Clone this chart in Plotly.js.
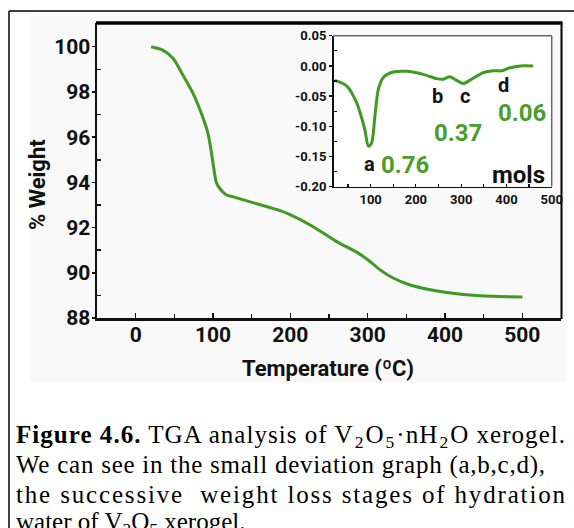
<!DOCTYPE html>
<html>
<head>
<meta charset="utf-8">
<script src="https://cdn.plot.ly/plotly-3.0.1.min.js"></script>
<style>html,body{margin:0;padding:0;background:#fff;}#chart{width:574px;height:528px;}</style>
</head>
<body>
<div id="chart"></div>
<script>
// Main TGA curve
const temperature = [20, 35, 48, 61, 74, 85, 93.5, 98, 102, 104, 108.5, 117, 126, 147, 169, 186, 199, 229, 260, 288, 303, 316, 333, 354, 376, 402, 445, 500];
const weightPct   = [100, 99.85, 99.5, 98.75, 97.95, 97.05, 96.17, 95.3, 94.4, 94.03, 93.74, 93.45, 93.36, 93.15, 92.93, 92.76, 92.58, 92.05, 91.38, 90.87, 90.5, 90.13, 89.77, 89.47, 89.28, 89.13, 88.98, 88.93];
// Inset derivative curve
const insetTemp  = [21, 47, 69, 87, 95, 102, 109.5, 117, 128, 150, 180, 216, 246, 260, 275, 290, 305, 323, 349, 371, 390, 408, 430, 459];
const insetDeriv = [-0.024, -0.033, -0.061, -0.105, -0.133, -0.128, -0.083, -0.039, -0.019, -0.010, -0.009, -0.014, -0.021, -0.022, -0.018, -0.024, -0.029, -0.022, -0.011, -0.008, -0.008, -0.003, 0, 0];
// Tick labels
const mainXTicks = [0, 100, 200, 300, 400, 500];
const mainYTicks = [88, 90, 92, 94, 96, 98, 100];
const insetXTicks = [100, 200, 300, 400, 500];
const insetYTicks = [0.05, 0, -0.05, -0.1, -0.15, -0.2];
const insetYLabels = ['0.05', '0.00', '-0.05', '-0.10', '-0.15', '-0.20'];
// Inset stage labels
const stageLabels = ['a', 'b', 'c', 'd'];
const stageX = [98.6, 247.3, 308.5, 394.6];
const stageY = [-0.1627, -0.0499, -0.0499, -0.0311];
const molValues = ['0.76', '0.37', '0.06'];
const molX = [177, 293.7, 435];
const molY = [-0.1644, -0.112, -0.0787];
const captionLines = [
  '<b>Figure 4.6.</b> TGA analysis of V<sub>2</sub>O<sub>5</sub>·nH<sub>2</sub>O xerogel.',
  'We can see in the small deviation graph (a,b,c,d),',
  'the successive  weight loss stages of hydration',
  'water of V<sub>2</sub>O<sub>5</sub> xerogel.'
];

const W = 574, H = 528;
const px = v => v / W;
const py = v => 1 - v / H;
const GREEN = '#3f9a22';
const TGREEN = '#4a9e2a';
const FONT = 'Roboto, "DejaVu Sans", sans-serif';

const traces = [
  {x: temperature, y: weightPct, type: 'scatter', mode: 'lines', xaxis: 'x', yaxis: 'y',
   line: {color: GREEN, width: 3, shape: 'spline', smoothing: 0.8}, hoverinfo: 'skip'},
  {x: insetTemp, y: insetDeriv, type: 'scatter', mode: 'lines', xaxis: 'x2', yaxis: 'y2',
   line: {color: GREEN, width: 3, shape: 'spline', smoothing: 0.8}, hoverinfo: 'skip'}
];

const annotations = [];
annotations.push({xref: 'paper', yref: 'paper', x: px(38), y: py(185), text: '% Weight', textangle: -90,
  showarrow: false, xanchor: 'center', yanchor: 'middle', font: {family: FONT, size: 22, weight: 'bold', color: '#111'}});
annotations.push({xref: 'paper', yref: 'paper', x: px(328), y: py(368), text: 'Temperature (ºC)',
  showarrow: false, xanchor: 'center', yanchor: 'middle', font: {family: FONT, size: 22, weight: 'bold', color: '#111'}});
stageLabels.forEach((t, i) => annotations.push({xref: 'x2', yref: 'y2', x: stageX[i], y: stageY[i], text: t,
  showarrow: false, xanchor: 'center', yanchor: 'middle', font: {family: FONT, size: 20, weight: 'bold', color: '#111'}}));
molValues.forEach((t, i) => annotations.push({xref: 'x2', yref: 'y2', x: molX[i], y: molY[i], text: t,
  showarrow: false, xanchor: 'center', yanchor: 'middle', font: {family: FONT, size: 24, weight: 'bold', color: TGREEN}}));
annotations.push({xref: 'x2', yref: 'y2', x: 426.2, y: -0.181, text: 'mols',
  showarrow: false, xanchor: 'center', yanchor: 'middle', font: {family: FONT, size: 24, weight: 'bold', color: '#111'}});
const capStart = annotations.length;
const capY = [436, 465, 494, 523];
captionLines.forEach((t, i) => annotations.push({xref: 'paper', yref: 'paper', x: px(15), y: py(capY[i]), text: t,
  showarrow: false, xanchor: 'left', yanchor: 'middle', align: 'left', borderpad: 0,
  font: {family: '"Liberation Serif", "Times New Roman", serif', size: 25, color: '#000'}}));
// target right edges (px) of justified caption lines
const capRight = [565, 545, 565, null];

const line = (x0, y0, x1, y1, w, c) => ({type: 'line', xref: 'paper', yref: 'paper',
  x0: px(x0), y0: py(y0), x1: px(x1), y1: py(y1), line: {color: c || '#000', width: w}});

const shapes = [
  {type: 'rect', xref: 'paper', yref: 'paper', x0: px(30), y0: py(382), x1: px(567), y1: py(14),
   fillcolor: '#f9f9f9', line: {width: 0}, layer: 'below'},
  {type: 'rect', xref: 'paper', yref: 'paper', x0: px(333.5), y0: py(186.5), x1: px(551.7), y1: py(35.8),
   fillcolor: '#ffffff', line: {width: 0}, layer: 'below'},
  line(9, 11, 574, 11, 1.5),
  line(9, 11, 9, 528, 1.5),
  line(96, 23, 562.5, 23, 3.5),
  line(561.5, 23, 561.5, 319, 2),
  line(333.5, 35.8, 551.7, 35.8, 1.5, '#666'),
  line(551.7, 35.8, 551.7, 186.5, 1.5, '#666')
];

const tickFontMain = {family: FONT, size: 21, weight: 'bold', color: '#111'};
const tickFontInset = {family: FONT, size: 13, weight: 'bold', color: '#111'};

const layout = {
  width: W, height: H, margin: {l: 0, r: 0, t: 0, b: 0},
  paper_bgcolor: '#ffffff', plot_bgcolor: 'rgba(0,0,0,0)', showlegend: false,
  xaxis: {domain: [px(97), px(561)], range: [-50, 550], tickvals: mainXTicks, ticks: 'inside', ticklen: 5,
    tickwidth: 1.5, tickcolor: '#111', showline: true, linewidth: 2.5, linecolor: '#111', showgrid: false,
    zeroline: false, tickfont: tickFontMain, ticklabelstandoff: -4,
    minor: {tickvals: [50, 150, 250, 350, 450], ticks: 'inside', ticklen: 4, tickwidth: 1.5, tickcolor: '#111', showgrid: false}},
  yaxis: {domain: [py(318), py(23)], range: [88, 101.05], tickvals: mainYTicks, ticks: 'outside', ticklen: 3,
    tickwidth: 1.5, tickcolor: '#111', showline: true, linewidth: 2.5, linecolor: '#111', showgrid: false,
    zeroline: false, tickfont: tickFontMain, ticklabelstandoff: -3,
    minor: {tickvals: [89, 91, 93, 95, 97, 99], ticks: 'inside', ticklen: 4, tickwidth: 1.5, tickcolor: '#111', showgrid: false}},
  xaxis2: {anchor: 'y2', domain: [px(333.5), px(551.7)], range: [18, 500], tickvals: insetXTicks, ticks: 'inside',
    ticklen: 3, tickwidth: 1.2, tickcolor: '#111', showline: true, linewidth: 1.5, linecolor: '#111', showgrid: false,
    zeroline: false, tickfont: tickFontInset,
    minor: {tickvals: [50, 150, 250, 350, 450], ticks: 'inside', ticklen: 3, tickwidth: 1.2, tickcolor: '#111', showgrid: false}},
  yaxis2: {anchor: 'x2', domain: [py(186.5), py(35.8)], range: [-0.2, 0.05], tickvals: insetYTicks, ticktext: insetYLabels,
    ticks: 'outside', ticklen: 3, tickwidth: 1.2, tickcolor: '#111', showline: true, linewidth: 1.5, linecolor: '#111',
    showgrid: false, zeroline: false, tickfont: tickFontInset,
    minor: {tickvals: [0.025, -0.025, -0.075, -0.125, -0.175], ticks: 'inside', ticklen: 3, tickwidth: 1.2, tickcolor: '#111', showgrid: false}},
  annotations: annotations,
  shapes: shapes
};

Plotly.newPlot('chart', traces, layout, {displayModeBar: false, staticPlot: true}).then(gd => {
  // justify caption lines like the printed figure caption
  const svgRect = gd.querySelector('.main-svg').getBoundingClientRect();
  captionLines.forEach((t, i) => {
    if (capRight[i] == null) return;
    const g = gd.querySelector('g.annotation[data-index="' + (capStart + i) + '"]');
    if (!g) return;
    const txt = g.querySelector('text.annotation-text');
    if (!txt) return;
    const r = txt.getBoundingClientRect();
    const left = r.left - svgRect.left;
    const target = capRight[i] - left;
    if (target > r.width) {
      txt.setAttribute('textLength', target.toFixed(1));
      txt.setAttribute('lengthAdjust', 'spacing');
    }
  });
});
</script>
</body>
</html>
